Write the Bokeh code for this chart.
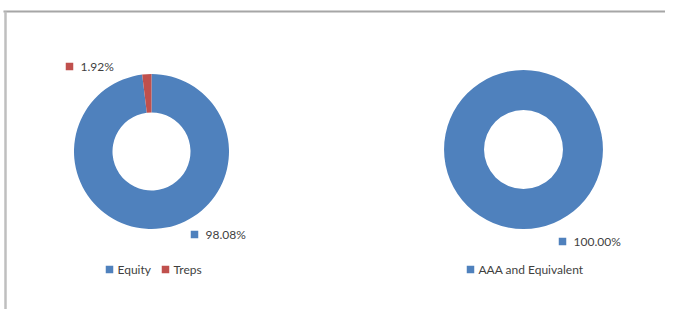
import numpy as np
from bokeh.plotting import figure
from bokeh.models import Range1d
from bokeh.core.properties import value
from bokeh.embed import file_html
from bokeh.resources import INLINE

# ---- data ----
cats1 = ["Equity", "Treps"]
vals1 = [98.08, 1.92]
cols1 = ["#4F81BD", "#C0504D"]

cats2 = ["AAA and Equivalent"]
vals2 = [100.00]
cols2 = ["#4F81BD"]

W, H = 665, 309
FONT = "Lato"
TXT = "#3F3F3F"
FS = "12px"

p = figure(width=W, height=H, output_backend="svg", toolbar_location=None,
           x_range=Range1d(0, W), y_range=Range1d(0, H), min_border=0)
p.axis.visible = False
p.grid.visible = False
p.outline_line_color = None
p.background_fill_color = "white"
p.border_fill_color = "white"

def px(x):  # screen x -> data x
    return x

def py(y):  # screen y -> data y
    return H - y

# border of the chart area
p.line([px(3), px(W)], [py(11), py(11)], line_color="#A6A6A6", line_width=2)
p.line([px(5), px(5)], [py(11), py(H)], line_color="#BFBFBF", line_width=2.5)

def donut(cx, cy, r_out, r_in, vals, cols):
    fr = np.array(vals, dtype=float) / sum(vals)
    cum = np.concatenate([[0], np.cumsum(fr)])
    # Excel: starts at 12 o'clock, goes clockwise
    starts = np.pi / 2 - cum[1:] * 2 * np.pi
    ends = np.pi / 2 - cum[:-1] * 2 * np.pi
    p.annular_wedge(x=[px(cx)] * len(vals), y=[py(cy)] * len(vals),
                    inner_radius=r_in, outer_radius=r_out,
                    start_angle=list(starts), end_angle=list(ends),
                    fill_color=cols, line_color=None)

donut(151, 151, 77.5, 39, vals1, cols1)
donut(523, 149, 79.5, 39.5, vals2, cols2)

def marker_label(mx, my, color, text, tx):
    p.scatter([px(mx)], [py(my)], marker="square", size=7.5,
              fill_color=color, line_color=None)
    p.text([px(tx)], [py(my)], text=[text], text_font=value(FONT),
           text_font_size=FS, text_color=TXT, text_baseline="middle",
           text_align="left")

# data labels
marker_label(69, 66, cols1[1], f"{vals1[1]:.2f}%", 80)
marker_label(194, 234, cols1[0], f"{vals1[0]:.2f}%", 205)
marker_label(562, 241, cols2[0], f"{vals2[0]:.2f}%", 573)

# legends
marker_label(109, 269, cols1[0], cats1[0], 117)
marker_label(165, 269, cols1[1], cats1[1], 173)
marker_label(470, 269, cols2[0], cats2[0], 478)

open("out.html", "w").write(file_html(p, INLINE))
